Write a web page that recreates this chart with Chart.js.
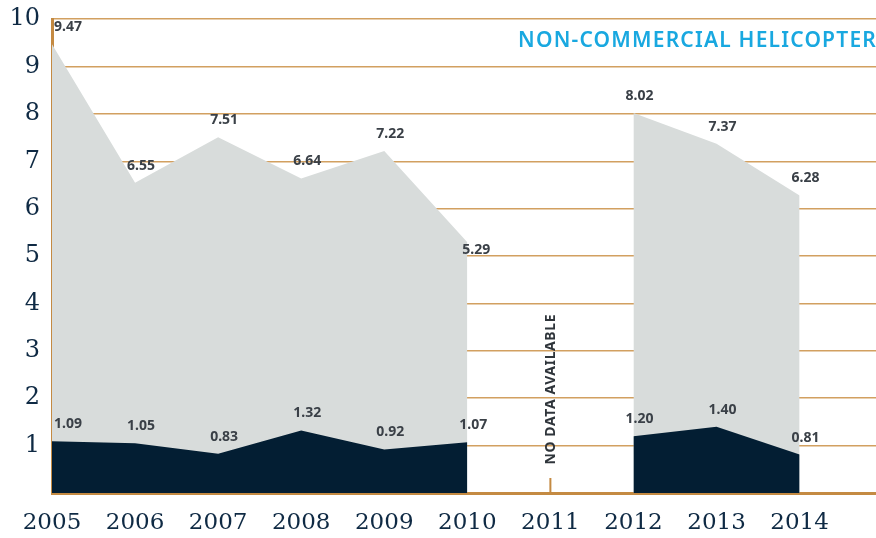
<!DOCTYPE html>
<html>
<head>
<meta charset="utf-8">
<script src="https://cdn.jsdelivr.net/npm/chart.js@4"></script>
<style>
  html, body { margin: 0; padding: 0; background: #fff; }
  #wrap { width: 876px; height: 538px; }
</style>
</head>
<body>
<div id="wrap"><canvas id="chart"></canvas></div>
<script>
const years = [2005, 2006, 2007, 2008, 2009, 2010, 2011, 2012, 2013, 2014];
const totalRate = [9.47, 6.55, 7.51, 6.64, 7.22, 5.29, null, 8.02, 7.37, 6.28];
const fatalRate = [1.09, 1.05, 0.83, 1.32, 0.92, 1.07, null, 1.20, 1.40, 0.81];
const yTicks = [1, 2, 3, 4, 5, 6, 7, 8, 9, 10];
const chartTitle = 'NON-COMMERCIAL HELICOPTER';
const noDataYear = 2011;
const noDataText = 'NO DATA AVAILABLE';

const gold = '#c48a42';
const navy = '#0f2a44';

const toPoints = vals => years.map((yr, i) => ({ x: yr, y: vals[i] }));

// value labels, title, "no data" note and the 2011 tick
const annotate = {
  id: 'annotate',
  afterDraw(chart) {
    const ctx = chart.ctx;
    const area = chart.chartArea;
    const xs = chart.scales.x, ys = chart.scales.y;
    ctx.save();
    ctx.font = 'bold 14px "Noto Sans"';
    ctx.fillStyle = '#3a4047';
    ctx.textBaseline = 'middle';
    chart.data.datasets.forEach((ds, di) => {
      const meta = chart.getDatasetMeta(di);
      meta.data.forEach((pt, i) => {
        const v = ds.data[i].y;
        if (v == null) return;
        const last = i + 1 < ds.data.length && ds.data[i + 1].y == null;
        let x = pt.x + 6, y = pt.y - 17;
        ctx.textAlign = 'center';
        if (i === 0) { x = pt.x + 2; ctx.textAlign = 'left'; }
        if (last && ds.label === 'total') { x = pt.x + 9; y = pt.y + 8; }
        ctx.fillText(v.toFixed(2), x, y);
      });
    });

    // title
    ctx.font = '600 21px "Noto Sans"';
    ctx.letterSpacing = '1.2px';
    ctx.fillStyle = '#19a8e0';
    ctx.textAlign = 'right';
    ctx.fillText(chartTitle, area.right + 1, 41);
    ctx.letterSpacing = '0px';

    // no data note
    const nx = xs.getPixelForValue(noDataYear);
    ctx.save();
    ctx.translate(nx + 1, ys.getPixelForValue(0.6));
    ctx.rotate(-Math.PI / 2);
    ctx.font = 'bold 14px "Noto Sans"';
    ctx.letterSpacing = '0.6px';
    ctx.fillStyle = '#2f353b';
    ctx.textAlign = 'left';
    ctx.fillText(noDataText, 0, 0);
    ctx.restore();

    ctx.strokeStyle = gold;
    ctx.lineWidth = 2;
    ctx.beginPath();
    ctx.moveTo(nx, area.bottom);
    ctx.lineTo(nx, area.bottom - 15);
    ctx.stroke();
    ctx.restore();
  }
};

new Chart(document.getElementById('chart'), {
  type: 'line',
  data: {
    datasets: [
      {
        label: 'fatal',
        data: toPoints(fatalRate),
        backgroundColor: '#031e33',
        borderWidth: 0,
        fill: 'origin',
        pointRadius: 0,
        spanGaps: false,
        order: 1
      },
      {
        label: 'total',
        data: toPoints(totalRate),
        backgroundColor: '#d8dcdb',
        borderWidth: 0,
        fill: 'origin',
        pointRadius: 0,
        spanGaps: false,
        order: 2
      }
    ]
  },
  options: {
    responsive: true,
    maintainAspectRatio: false,
    animation: false,
    layout: { padding: { top: 17, right: 0, left: 0, bottom: 0 } },
    plugins: {
      legend: { display: false },
      tooltip: { enabled: false }
    },
    scales: {
      x: {
        type: 'linear',
        min: 2005,
        max: 2014.92,
        grid: { display: false, drawTicks: false },
        border: { color: gold, width: 3 },
        ticks: {
          stepSize: 1,
          includeBounds: false,
          padding: 16,
          color: navy,
          font: { family: '"DejaVu Serif"', size: 23 },
          callback: v => String(v)
        },
        afterFit: s => { s.height = 45; }
      },
      y: {
        min: 0,
        max: 10,
        z: 1,
        afterBuildTicks: s => { s.ticks = [0].concat(yTicks).map(v => ({ value: v })); },
        grid: { color: '#d2a060', lineWidth: 1.5, drawTicks: false },
        border: { color: gold, width: 3 },
        ticks: {
          padding: 12,
          color: navy,
          font: { family: '"DejaVu Serif"', size: 24, lineHeight: 0.6 },
          callback: v => v === 0 ? '' : String(v)
        },
        afterFit: s => { s.width = 52; }
      }
    }
  },
  plugins: [annotate]
});
</script>
</body>
</html>
